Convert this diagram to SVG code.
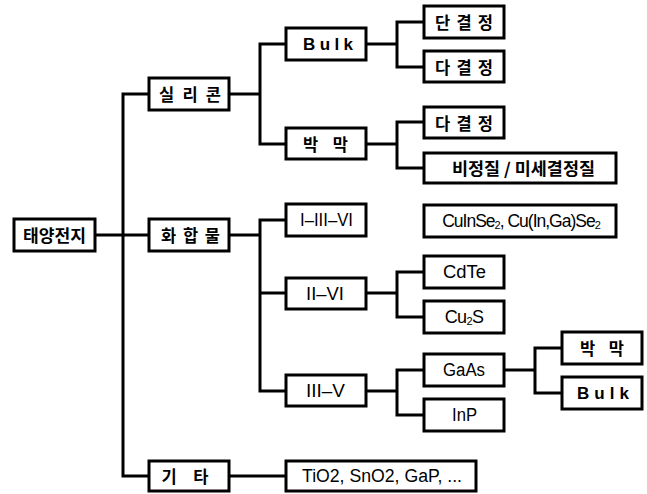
<svg xmlns="http://www.w3.org/2000/svg" width="647" height="494" viewBox="0 0 647 494">
<style>
rect{fill:#fff;stroke:#000;stroke-width:3}
.c path{fill:none;stroke:#000;stroke-width:3;stroke-linejoin:miter}
text{text-anchor:middle;dominant-baseline:central;fill:#000}
.ko{font-family:"Noto Sans CJK KR",sans-serif;font-weight:bold;font-size:16.5px}
.en{font-family:"Liberation Sans",Arial,sans-serif;font-size:18px}
.ens{font-family:"Liberation Sans",Arial,sans-serif;font-size:17.5px;letter-spacing:-1px}
.sp{font-family:"Liberation Sans",Arial,sans-serif;font-size:17px;font-weight:bold}
.sub{font-size:11px}
</style>
<rect width="647" height="494" style="fill:#fff;stroke:none"/>
<g class="c" id="connectors">
<path d="M95,235 H149"/>
<path d="M149,94 H123 V476 H149"/>
<path d="M229,94 H260"/>
<path d="M286,44 H260 V144 H286"/>
<path d="M229,235 H260"/>
<path d="M286,220 H260 V391 H286"/>
<path d="M260,293 H286"/>
<path d="M229,476 H286"/>
<path d="M366,44 H397"/>
<path d="M424,22 H397 V67 H424"/>
<path d="M366,144 H397"/>
<path d="M424,122 H397 V168 H424"/>
<path d="M366,293 H397"/>
<path d="M424,272 H397 V317 H424"/>
<path d="M366,391 H397"/>
<path d="M424,370 H397 V415 H424"/>
<path d="M504,370 H535"/>
<path d="M562,348 H535 V393 H562"/>
</g>
<g id="n-solar"><rect x="14" y="219" width="81" height="32"/><text class="ko" x="54.5" y="235" textLength="63" lengthAdjust="spacingAndGlyphs">태양전지</text></g>
<g id="n-silicon"><rect x="149" y="78" width="80" height="32"/><text class="ko" x="190" y="94" textLength="62" lengthAdjust="spacing">실 리 콘</text></g>
<g id="n-compound"><rect x="149" y="219" width="80" height="32"/><text class="ko" x="190.5" y="235" textLength="59" lengthAdjust="spacing">화 합 물</text></g>
<g id="n-etc"><rect x="149" y="461" width="80" height="30"/><text class="ko" x="185" y="476" textLength="47" lengthAdjust="spacing">기 타</text></g>
<g id="n-bulk"><rect x="286" y="28" width="80" height="32"/><text class="sp" x="328" y="44" textLength="50" lengthAdjust="spacing">Bulk</text></g>
<g id="n-thin"><rect x="286" y="128" width="80" height="31"/><text class="ko" x="325.5" y="143.5" textLength="45" lengthAdjust="spacing">박 막</text></g>
<g id="n-136"><rect x="286" y="204" width="80" height="32"/><text class="en" x="326.5" y="220" textLength="53" lengthAdjust="spacingAndGlyphs">I–III–VI</text></g>
<g id="n-26"><rect x="286" y="278" width="80" height="31"/><text class="en" x="325" y="293.5" textLength="38" lengthAdjust="spacingAndGlyphs">II–VI</text></g>
<g id="n-35"><rect x="286" y="375" width="80" height="31"/><text class="en" x="325.5" y="390.5" textLength="39" lengthAdjust="spacingAndGlyphs">III–V</text></g>
<g id="n-tio2"><rect x="286" y="461" width="190" height="30"/><text class="en" x="382" y="476" textLength="160" lengthAdjust="spacingAndGlyphs">TiO2, SnO2, GaP, ...</text></g>
<g id="n-mono"><rect x="424" y="6" width="80" height="32"/><text class="ko" x="464" y="22" textLength="58" lengthAdjust="spacing">단 결 정</text></g>
<g id="n-poly1"><rect x="424" y="51" width="80" height="31"/><text class="ko" x="464" y="66.5" textLength="58" lengthAdjust="spacing">다 결 정</text></g>
<g id="n-poly2"><rect x="424" y="107" width="80" height="31"/><text class="ko" x="464" y="122.5" textLength="58" lengthAdjust="spacing">다 결 정</text></g>
<g id="n-amorph"><rect x="424" y="153" width="192" height="30"/><text class="ko" x="523.5" y="168" textLength="143" lengthAdjust="spacingAndGlyphs">비정질 / 미세결정질</text></g>
<g id="n-cis"><rect x="424" y="205" width="192" height="32"/><text class="ens" x="521" y="221">CuInSe<tspan class="sub" baseline-shift="-4">2</tspan>, Cu(In,Ga)Se<tspan class="sub" baseline-shift="-4">2</tspan></text></g>
<g id="n-cdte"><rect x="424" y="256" width="80" height="32"/><text class="en" x="464.5" y="272" textLength="43" lengthAdjust="spacingAndGlyphs">CdTe</text></g>
<g id="n-cu2s"><rect x="424" y="301" width="80" height="32"/><text class="ens" x="464" y="317" style="font-size:18px;letter-spacing:-0.6px">Cu<tspan class="sub" baseline-shift="-4">2</tspan>S</text></g>
<g id="n-gaas"><rect x="424" y="354" width="80" height="32"/><text class="en" x="464" y="370" textLength="42" lengthAdjust="spacingAndGlyphs">GaAs</text></g>
<g id="n-inp"><rect x="424" y="399" width="80" height="32"/><text class="en" x="464.5" y="415" textLength="25" lengthAdjust="spacingAndGlyphs">InP</text></g>
<g id="n-thin2"><rect x="562" y="332" width="80" height="32"/><text class="ko" x="602" y="348" textLength="44" lengthAdjust="spacing">박 막</text></g>
<g id="n-bulk2"><rect x="562" y="377" width="80" height="32"/><text class="sp" x="603" y="393" textLength="52" lengthAdjust="spacing">Bulk</text></g>
</svg>
